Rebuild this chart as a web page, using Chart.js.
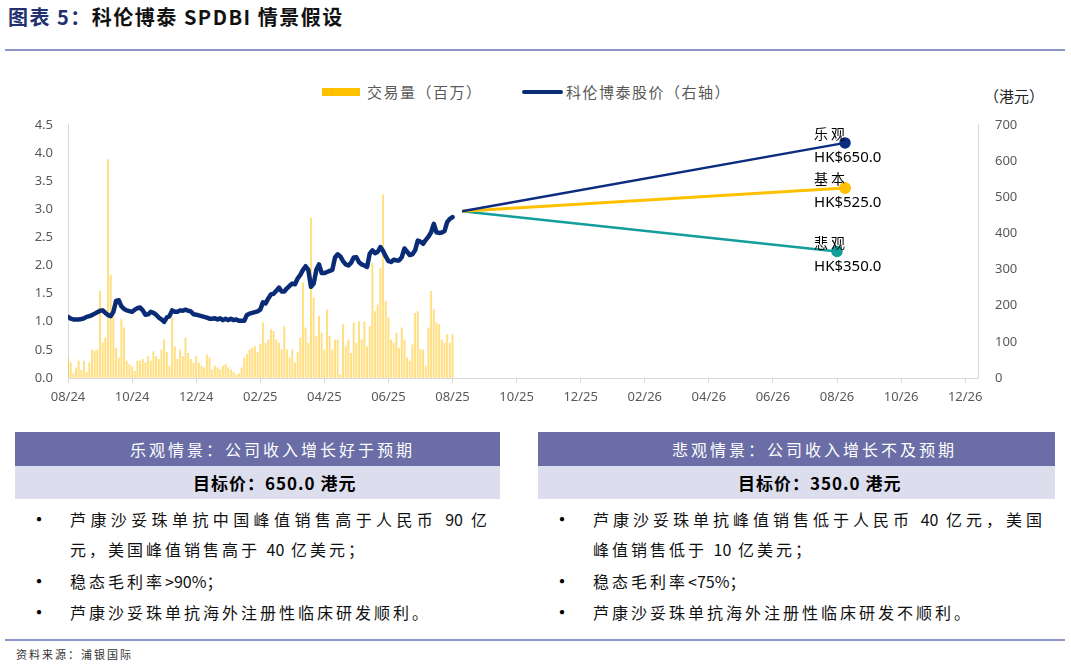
<!DOCTYPE html>
<html lang="zh">
<head>
  <meta charset="UTF-8">
  <title>科伦博泰 SPDBI 情景假设</title>
  <script src="https://cdn.jsdelivr.net/npm/chart.js"></script>
  <style>
    body {
      margin: 0;
      width: 1071px;
      height: 666px;
      position: relative;
      overflow: hidden;
      background: #fff;
      font-family: "Noto Sans CJK SC", "Noto Sans", sans-serif;
    }
    .title { position: absolute; left: 8px; top: 2px; font-size: 20px; font-weight: 700; color: #111; letter-spacing: 1.5px; }
    .title .num { color: #23306f; }
    .rule { position: absolute; left: 5px; width: 1060px; height: 2px; background: #8e96c8; }
    .legend { position: absolute; top: 81px; font-size: 15px; color: #595959; letter-spacing: 1.5px; line-height: 22px; }
    .swatch { position: absolute; }
    .unit { position: absolute; left: 984px; top: 85px; font-size: 15px; color: #222; line-height: 22px; }
    #wrap { position: absolute; left: 0; top: 100px; width: 1071px; height: 318px; }
    .box { position: absolute; top: 432px; }
    .box .head { height: 34px; line-height: 34px; background: #6a6da6; color: #fff; font-size: 16px; letter-spacing: 3px; }
    .box .sub { height: 33px; line-height: 33px; background: #dcdded; color: #000; font-size: 17px; font-weight: 700; letter-spacing: 1px; }
    .box .body { position: relative; font-size: 16px; color: #111; letter-spacing: 3px; }
    .line { position: absolute; white-space: nowrap; line-height: 24px; }
    .dot { position: absolute; font-size: 20px; line-height: 24px; color: #000; }
    .n { letter-spacing: 0; }
    .just { text-align: justify; text-align-last: justify; white-space: normal; }
    .source { position: absolute; left: 16px; top: 646px; font-size: 11px; color: #333; letter-spacing: 2px; }
  </style>
</head>
<body>
  <div class="title"><span class="num">图表 5：</span>科伦博泰 SPDBI 情景假设</div>
  <div class="rule" style="top:49px"></div>

  <div class="swatch" style="left:322px; top:88px; width:38px; height:8px; background:#ffc000"></div>
  <div class="legend" style="left:367px">交易量（百万）</div>
  <div class="swatch" style="left:522px; top:90px; width:41px; height:4px; border-radius:2px; background:#0a2b75"></div>
  <div class="legend" style="left:566px">科伦博泰股价（右轴）</div>
  <div class="unit">（港元）</div>

  <div id="wrap"><canvas id="chart"></canvas></div>

  <div class="box" style="left:15px; width:485px">
    <div class="head" style="padding-left:115px">乐观情景：公司收入增长好于预期</div>
    <div class="sub" style="padding-left:178px">目标价：650.0 港元</div>
    <div class="body">
      <div class="dot" style="left:14px; top:8px">•</div>
      <div class="line just" style="left:55px; top:8px; width:420px">芦康沙妥珠单抗中国峰值销售高于人民币 <span class="n">90</span> 亿</div>
      <div class="line" style="left:55px; top:38px">元，美国峰值销售高于 <span class="n">40</span> 亿美元；</div>
      <div class="dot" style="left:14px; top:70px">•</div>
      <div class="line" style="left:55px; top:70px">稳态毛利率<span class="n">&gt;90%</span>；</div>
      <div class="dot" style="left:14px; top:101px">•</div>
      <div class="line" style="left:55px; top:101px">芦康沙妥珠单抗海外注册性临床研发顺利。</div>
    </div>
  </div>

  <div class="box" style="left:538px; width:517px">
    <div class="head" style="padding-left:134px">悲观情景：公司收入增长不及预期</div>
    <div class="sub" style="padding-left:200px">目标价：350.0 港元</div>
    <div class="body">
      <div class="dot" style="left:14px; top:8px">•</div>
      <div class="line just" style="left:55px; top:8px; width:452px">芦康沙妥珠单抗峰值销售低于人民币 <span class="n">40</span> 亿元，美国</div>
      <div class="line" style="left:55px; top:38px">峰值销售低于 <span class="n">10</span> 亿美元；</div>
      <div class="dot" style="left:14px; top:70px">•</div>
      <div class="line" style="left:55px; top:70px">稳态毛利率<span class="n">&lt;75%</span>；</div>
      <div class="dot" style="left:14px; top:101px">•</div>
      <div class="line" style="left:55px; top:101px">芦康沙妥珠单抗海外注册性临床研发不顺利。</div>
    </div>
  </div>

  <div class="rule" style="top:639px"></div>
  <div class="source">资料来源：浦银国际</div>

  <script>
    // x axis is in months from 08/24; one tick label every two months
    const tickLabels = ['08/24', '10/24', '12/24', '02/25', '04/25', '06/25', '08/25', '10/25',
                        '12/25', '02/26', '04/26', '06/26', '08/26', '10/26', '12/26'];
    const pointsPerMonth = 12;

    // trading volume (millions), Aug 2024 - Aug 2025
    const volume = [
      0.36, 0.27, 0.08, 0.18, 0.30, 0.14, 0.30, 0.10, 0.27, 0.50, 0.48, 0.50,
      1.54, 0.62, 0.71, 3.88, 1.83, 1.10, 0.53, 0.36, 1.04, 0.89, 0.30, 0.24,
      0.20, 0.12, 0.30, 0.30, 0.33, 0.27, 0.38, 0.30, 0.47, 0.38, 0.33, 0.50,
      0.68, 0.45, 0.21, 1.07, 0.56, 0.33, 0.50, 0.38, 0.71, 0.44, 0.33, 0.27,
      0.38, 0.27, 0.21, 0.18, 0.41, 0.36, 0.15, 0.21, 0.18, 0.15, 0.21, 0.24,
      0.18, 0.15, 0.10, 0.05, 0.08, 0.18, 0.36, 0.42, 0.50, 0.53, 0.56, 0.45,
      0.60, 0.98, 0.62, 0.68, 0.86, 0.83, 0.68, 0.62, 0.50, 0.92, 0.50, 0.36,
      0.50, 0.27, 0.45, 0.71, 1.69, 0.89, 0.62, 2.84, 1.42, 0.74, 1.10, 0.80,
      0.50, 1.21, 0.74, 0.50, 0.68, 0.68, 0.06, 0.95, 0.56, 0.68, 0.44, 0.98,
      0.62, 1.00, 0.68, 1.00, 0.56, 0.92, 2.04, 1.18, 1.30, 1.95, 3.26, 1.36,
      1.07, 0.68, 0.62, 0.80, 0.53, 0.89, 0.68, 0.36, 0.30, 0.59, 1.15, 1.18,
      0.50, 0.50, 0.21, 0.89, 1.54, 1.21, 0.98, 0.95, 0.68, 0.62, 0.77, 0.62,
      0.77
    ];

    // share price (HK$), same dates as volume
    const price = [
      169, 164, 162, 162, 162, 163, 165, 169, 171, 174, 178, 182,
      186, 187, 180, 174, 171, 183, 213, 215, 198, 191, 187, 185,
      183, 189, 193, 195, 187, 175, 176, 183, 180, 175, 167, 162,
      155, 167, 171, 187, 183, 183, 187, 186, 189, 186, 184, 176,
      175, 173, 171, 169, 167, 164, 164, 165, 162, 165, 160, 164,
      160, 164, 160, 162, 158, 158, 158, 174, 178, 180, 182, 184,
      189, 209, 206, 220, 231, 233, 241, 250, 239, 239, 248, 255,
      261, 259, 275, 285, 299, 309, 299, 252, 261, 299, 314, 290,
      290, 293, 296, 299, 333, 342, 336, 323, 314, 311, 318, 333,
      334, 320, 314, 311, 307, 344, 353, 345, 349, 362, 351, 336,
      323, 321, 327, 325, 325, 334, 358, 349, 340, 342, 353, 380,
      377, 371, 382, 391, 403, 426, 403, 401, 402, 406, 431, 440,
      445
    ];

    // scenarios: start point and target prices around 08/26
    const scenarioNames = ['乐观', '基本', '悲观'];
    const scenarioTargets = [650, 525, 350];
    const scenarioEndMonth = [24.25, 24.25, 24.0];
    const scenarioColors = ['#0c2c80', '#ffc000', '#139e9c'];
    const scenarioStartMonth = 12.3;
    const scenarioStartPrice = 461;

    const volumeData = volume.map((v, i) => ({ x: i / pointsPerMonth, y: v }));
    const priceData = price.map((v, i) => ({ x: i / pointsPerMonth, y: v }));

    const scenarioSets = scenarioNames.map((name, k) => ({
      type: 'line',
      label: name,
      data: [
        { x: scenarioStartMonth, y: scenarioStartPrice },
        { x: scenarioEndMonth[k], y: scenarioTargets[k] }
      ],
      yAxisID: 'y1',
      borderColor: scenarioColors[k],
      backgroundColor: scenarioColors[k],
      borderWidth: k === 1 ? 3 : 2.5,
      pointRadius: [0, 4.5],
      pointHoverRadius: [0, 4.5],
      order: 2
    }));

    // text next to the scenario end points
    const scenarioLabels = {
      id: 'scenarioLabels',
      afterDatasetsDraw(chart) {
        const ctx = chart.ctx;
        const left = chart.scales.x.getPixelForValue(24) - 23;
        ctx.save();
        ctx.fillStyle = '#000';
        ctx.textAlign = 'left';
        ctx.textBaseline = 'middle';
        scenarioNames.forEach((name, k) => {
          const pt = chart.getDatasetMeta(2 + k).data[1];
          ctx.font = '14px "Noto Sans CJK SC"';
          ctx.letterSpacing = '3px';
          ctx.fillText(name, left, pt.y - 9);
          ctx.font = '15px "Noto Sans"';
          ctx.letterSpacing = '0px';
          ctx.fillText('HK$' + scenarioTargets[k].toFixed(1), left, pt.y + 15);
        });
        ctx.restore();
      }
    };

    const tickFont = { family: '"Noto Sans"', size: 13 };
    const axisGrey = '#d9d9d9';

    new Chart(document.getElementById('chart'), {
      data: {
        datasets: [
          {
            type: 'bar',
            label: '交易量（百万）',
            data: volumeData,
            yAxisID: 'y',
            backgroundColor: 'rgba(255, 192, 0, 0.5)',
            barThickness: 1.3,
            order: 5
          },
          {
            type: 'line',
            label: '科伦博泰股价（右轴）',
            data: priceData,
            yAxisID: 'y1',
            borderColor: '#0a2b75',
            borderWidth: 4.5,
            borderJoinStyle: 'round',
            borderCapStyle: 'round',
            pointRadius: 0,
            order: 1
          },
          ...scenarioSets
        ]
      },
      options: {
        responsive: true,
        maintainAspectRatio: false,
        animation: false,
        layout: { padding: { top: 8, left: 0, right: 0, bottom: 0 } },
        plugins: {
          legend: { display: false },
          tooltip: { enabled: false }
        },
        scales: {
          x: {
            type: 'linear',
            offset: false,
            min: 0,
            max: 28.4,
            afterBuildTicks: s => { s.ticks = tickLabels.map((t, i) => ({ value: i * 2 })); },
            afterFit: s => { s.height = 40; },
            ticks: {
              callback: v => tickLabels[Math.round(v / 2)],
              font: tickFont,
              color: '#595959',
              padding: 6,
              maxRotation: 0,
              autoSkip: false
            },
            grid: { drawOnChartArea: false, tickLength: 5, color: axisGrey, offset: false },
            border: { color: axisGrey }
          },
          y: {
            position: 'left',
            min: 0,
            max: 4.5,
            afterFit: s => { s.width = 68; },
            ticks: {
              stepSize: 0.5,
              callback: v => v.toFixed(1),
              font: tickFont,
              color: '#595959',
              padding: 15
            },
            grid: { drawOnChartArea: false, drawTicks: false },
            border: { color: axisGrey }
          },
          y1: {
            position: 'right',
            min: 0,
            max: 700,
            afterFit: s => { s.width = 93; },
            ticks: {
              stepSize: 100,
              font: tickFont,
              color: '#595959',
              padding: 17
            },
            grid: { drawOnChartArea: false, drawTicks: false },
            border: { color: axisGrey }
          }
        }
      },
      plugins: [scenarioLabels]
    });
  </script>
</body>
</html>
